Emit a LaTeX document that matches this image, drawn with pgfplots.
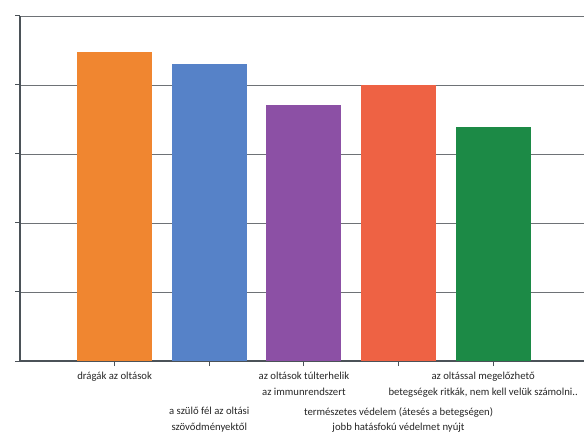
\documentclass[border=0pt]{standalone}
\usepackage{pgfplots}
\pgfplotsset{compat=1.18}
\usepackage{fontspec}
\setmainfont{Carlito}
\definecolor{cOrange}{RGB}{240,134,48}
\definecolor{cBlue}{RGB}{86,130,200}
\definecolor{cPurple}{RGB}{140,80,165}
\definecolor{cRed}{RGB}{238,98,68}
\definecolor{cGreen}{RGB}{28,138,70}
\definecolor{cGrid}{RGB}{110,114,118}
\definecolor{cAxis}{RGB}{75,82,88}
\begin{document}
\begin{tikzpicture}
\useasboundingbox (0,0) rectangle (584bp,441bp);
\begin{axis}[
  at={(20bp,80bp)}, anchor=south west,
  scale only axis, width=564bp, height=345bp,
  xmin=-1, xmax=4.96, ymin=0, ymax=5,
  ytick={0,1,2,3,4,5}, yticklabels={},
  ymajorgrids, grid style={cGrid, line width=0.9bp},
  axis x line*=bottom, axis y line*=left,
  axis line style={cAxis, line width=1.1bp, -},
  tick align=outside, major tick length=5bp,
  tick style={cAxis, line width=1bp},
  ybar, bar shift=0pt, bar width=75bp,
  xtick={0,2,4},
  xticklabels={drágák az oltások,{az oltások túlterhelik\\az immunrendszert},{az oltással megelőzhető\hspace*{20bp}\\betegségek ritkák, nem kell velük számolni..\hspace*{20bp}}},
  extra x ticks={1,3},
  extra x tick labels={{a szülő fél az oltási\\szövődményektől},{természetes védelem (átesés a betegségen)\\jobb hatásfokú védelmet nyújt}},
  extra x tick style={xticklabel style={yshift=-35bp}},
  xticklabel style={align=center, font=\fontsize{10.7bp}{15.8bp}\selectfont, text=black!85, inner sep=3bp, yshift=-3bp},
]
\addplot[fill=cOrange, draw=none] coordinates {(0,4.48)};
\addplot[fill=cBlue, draw=none] coordinates {(1,4.30)};
\addplot[fill=cPurple, draw=none] coordinates {(2,3.71)};
\addplot[fill=cRed, draw=none] coordinates {(3,4.00)};
\addplot[fill=cGreen, draw=none] coordinates {(4,3.39)};
\end{axis}
\end{tikzpicture}
\end{document}
